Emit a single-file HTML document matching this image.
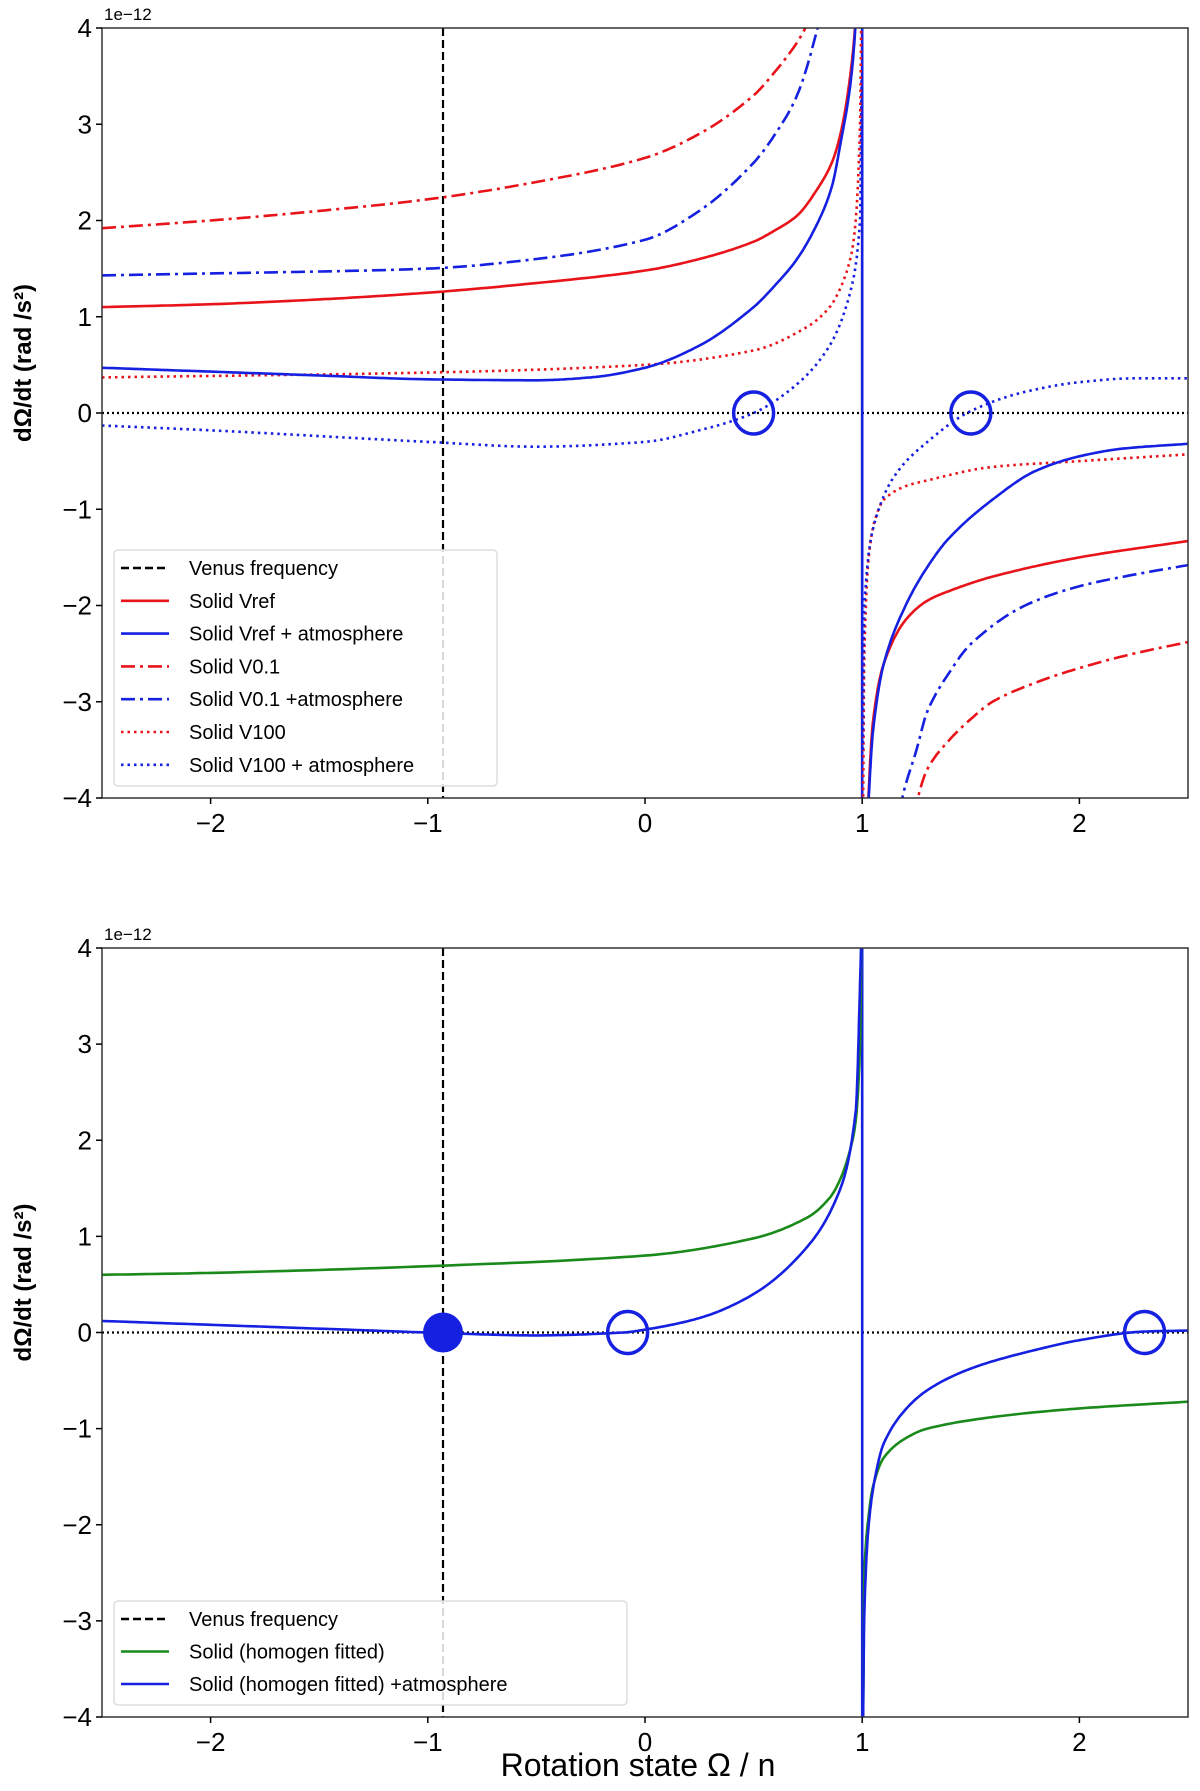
<!DOCTYPE html>
<html><head><meta charset="utf-8"><style>
html,body{margin:0;padding:0;background:#fff;overflow:hidden;width:1200px;height:1791px;}
svg{display:block;}
svg text{font-family:"Liberation Sans","DejaVu Sans",sans-serif;}
</style></head><body>
<svg id="fig" width="1200" height="1791" viewBox="0 0 1200 1791" xmlns="http://www.w3.org/2000/svg"></svg>
<script>
// ---- data: top panel ----
const vrefL_x=[-2.5,-2,-1.5,-1,-0.5,0,0.25,0.5,0.6,0.7,0.8,0.86,0.9,0.95,0.98,0.995];
const vrefL_y=[1.1,1.13,1.18,1.25,1.35,1.48,1.6,1.78,1.9,2.05,2.35,2.6,2.9,3.6,4.5,6];
const vrefR_x=[1.005,1.02,1.05,1.1,1.2,1.3,1.4,1.6,2,2.5];
const vrefR_y=[-6,-4.5,-3.2,-2.6,-2.15,-1.95,-1.85,-1.7,-1.5,-1.33];
const vrefAtmL_x=[-2.5,-2,-1.5,-1,-0.5,-0.25,0,0.25,0.5,0.6,0.7,0.8,0.86,0.9,0.95,0.98,0.995];
const vrefAtmL_y=[0.47,0.43,0.39,0.35,0.34,0.37,0.47,0.7,1.1,1.33,1.6,2.0,2.35,2.8,3.5,4.5,6];
const vrefAtmR_x=[1.003,1.01,1.03,1.05,1.1,1.2,1.3,1.4,1.6,1.8,2,2.2,2.5];
const vrefAtmR_y=[-7,-5,-4,-3.3,-2.6,-2.0,-1.6,-1.3,-0.9,-0.6,-0.45,-0.37,-0.32];
const v01L_x=[-2.5,-2,-1.5,-1,-0.5,0,0.25,0.5,0.6,0.7,0.75,0.8];
const v01L_y=[1.92,2.0,2.1,2.22,2.4,2.65,2.9,3.3,3.55,3.85,4.05,4.3];
const v01R_x=[1.2,1.25,1.3,1.4,1.5,1.6,1.8,2,2.25,2.5];
const v01R_y=[-4.6,-4.05,-3.7,-3.4,-3.18,-3.0,-2.8,-2.65,-2.5,-2.38];
const v01AtmL_x=[-2.5,-2,-1.5,-1,-0.5,0,0.25,0.5,0.6,0.7,0.8,0.85];
const v01AtmL_y=[1.43,1.45,1.47,1.5,1.6,1.8,2.1,2.6,2.9,3.3,4.05,4.6];
const v01AtmR_x=[1.15,1.18,1.25,1.3,1.4,1.5,1.75,2,2.25,2.5];
const v01AtmR_y=[-4.6,-4.05,-3.5,-3.1,-2.7,-2.4,-2.0,-1.8,-1.68,-1.58];
const v100L_x=[-2.5,-1,0,0.5,0.75,0.85,0.9,0.95,0.97,0.99,0.997];
const v100L_y=[0.37,0.42,0.5,0.65,0.9,1.1,1.3,1.65,2,3,4.5];
const v100R_x=[1.003,1.01,1.03,1.06,1.1,1.2,1.3,1.6,2,2.5];
const v100R_y=[-4.5,-2.5,-1.5,-1.1,-0.9,-0.76,-0.7,-0.56,-0.5,-0.43];
const v100AtmL_x=[-2.5,-2,-1.5,-1,-0.5,0,0.25,0.5,0.7,0.85,0.95,0.99,0.997];
const v100AtmL_y=[-0.13,-0.18,-0.24,-0.3,-0.35,-0.3,-0.18,0.0,0.3,0.7,1.3,2,3.5];
const v100AtmR_x=[1.003,1.01,1.05,1.15,1.3,1.5,1.75,2,2.25,2.5];
const v100AtmR_y=[-3.5,-2,-1.2,-0.65,-0.3,0.02,0.22,0.32,0.36,0.36];
const topCircles_x=[0.5,1.5];
// ---- data: bottom panel ----
const greenL_x=[-2.5,-2,-1,0,0.5,0.75,0.85,0.9,0.95,0.97,0.99,0.997];
const greenL_y=[0.6,0.62,0.69,0.8,0.98,1.2,1.4,1.6,1.95,2.2,3,4.5];
const greenR_x=[1.003,1.01,1.03,1.05,1.1,1.2,1.3,1.6,2,2.5];
const greenR_y=[-4.5,-2.5,-1.9,-1.6,-1.3,-1.1,-1.0,-0.88,-0.79,-0.72];
const blueL_x=[-2.5,-2,-1.5,-1,-0.5,-0.1,0,0.25,0.5,0.75,0.9,0.97,0.995];
const blueL_y=[0.12,0.08,0.04,0.0,-0.03,0.0,0.03,0.15,0.4,0.9,1.5,2.3,4];
const blueR_x=[1.002,1.01,1.03,1.06,1.1,1.2,1.3,1.45,1.6,1.8,2,2.3,2.5];
const blueR_y=[-4.5,-2.9,-2,-1.5,-1.15,-0.8,-0.6,-0.42,-0.3,-0.18,-0.08,0.01,0.02];
const botCircles_x=[-0.08,2.3];
const botDot_x=[-0.93];
const venusX=-0.93;
const xTicks=[-2,-1,0,1,2];
const yTicks=[-4,-3,-2,-1,0,1,2,3,4];
const xTickLabels=["\u22122","\u22121","0","1","2"];
const yTickLabels=["\u22124","\u22123","\u22122","\u22121","0","1","2","3","4"];

const NS="http://www.w3.org/2000/svg";
const svg=document.getElementById('fig');
function mk(tag,attrs,parent){const e=document.createElementNS(NS,tag);for(const k in attrs)e.setAttribute(k,attrs[k]);(parent||svg).appendChild(e);return e;}
const X0=102,X1=1188;
function sx(v){return X0+(v+2.5)/5*(X1-X0);}
function makeSy(top,bot){return v=>bot-(v+4)/8*(bot-top);}
const LIM=4.05;
function spline(xs,ys,sy){
  const n=xs.length, d=[], m=new Array(n);
  for(let i=0;i<n-1;i++) d.push((ys[i+1]-ys[i])/(xs[i+1]-xs[i]));
  m[0]=d[0]; m[n-1]=d[n-2];
  for(let i=1;i<n-1;i++) m[i]=(d[i-1]*d[i]<=0)?0:2/(1/d[i-1]+1/d[i]);
  let out=[];
  for(let i=0;i<n-1;i++){
    const h=xs[i+1]-xs[i];
    for(let k=0;k<20;k++){
      const t=k/20, t2=t*t, t3=t2*t;
      const y=(2*t3-3*t2+1)*ys[i]+(t3-2*t2+t)*h*m[i]+(-2*t3+3*t2)*ys[i+1]+(t3-t2)*h*m[i+1];
      out.push([sx(xs[i]+t*h),sy(Math.max(-LIM,Math.min(LIM,y)))]);
    }
  }
  out.push([sx(xs[n-1]),sy(Math.max(-LIM,Math.min(LIM,ys[n-1])))]);
  return "M"+out.map(p=>p[0].toFixed(1)+","+p[1].toFixed(1)).join(" L");
}
function panel(top,bot,id,series,extras,legend,lg){
  const sy=makeSy(top,bot);
  const g=mk('g',{});
  
  
  mk('clipPath',{id:'clip'+id},g);
  mk('rect',{x:X0,y:top,width:X1-X0,height:bot-top},g.lastChild);
  const plot=mk('g',{'clip-path':'url(#clip'+id+')'},g);
  
  
  const zl=mk('line',{x1:X0,x2:X1,y1:sy(0),y2:sy(0),stroke:'#000','stroke-width':2.2,'stroke-dasharray':'2,3'},plot);
  
  
  const vl=mk('line',{x1:sx(venusX),x2:sx(venusX),y1:top,y2:bot,stroke:'#000','stroke-width':2.2,'stroke-dasharray':'8,4'},plot);
  
  
  for(const s of series){
    const pth=mk('path',{d:spline(s.x,s.y,sy),fill:'none',stroke:s.c,'stroke-width':2.6,'stroke-dasharray':s.dash||'none'},plot);
    
    
  }
  extras(plot,sy);
  const fr=mk('rect',{x:X0,y:top,width:X1-X0,height:bot-top,fill:'none',stroke:'#333','stroke-width':1.5},g);
  
  
  xTicks.forEach((t,i)=>{
    mk('line',{x1:sx(t),x2:sx(t),y1:bot,y2:bot+6,stroke:'#000','stroke-width':1.5},g);
    const tx=mk('text',{x:sx(t),y:bot+34,'text-anchor':'middle','font-size':26},g);
    tx.textContent=xTickLabels[i];
    
    
  });
  yTicks.forEach((t,i)=>{
    mk('line',{x1:X0-6,x2:X0,y1:sy(t),y2:sy(t),stroke:'#000','stroke-width':1.5},g);
    const tx=mk('text',{x:X0-10,y:sy(t)+9,'text-anchor':'end','font-size':26},g);
    tx.textContent=yTickLabels[i];
    
    
  });
  const ex=mk('text',{x:X0+2,y:top-8,'font-size':17},g);
  ex.textContent='1e\u221212';
  
  
  const yl=mk('text',{transform:'translate(31,'+((top+bot)/2-50)+') rotate(-90)','text-anchor':'middle','font-size':24,'font-weight':'bold'},g);
  yl.textContent='dΩ/dt  (rad /s²)';
  
  
  const L=mk('g',{},g);
  
  
  mk('rect',{x:lg.x,y:lg.y,width:lg.w,height:lg.h,fill:'#fff','fill-opacity':0.85,stroke:'#ddd','stroke-width':1.5,rx:4},L);
  legend.forEach((e,i)=>{
    const yy=lg.y+18+i*lg.step;
    mk('line',{x1:121,x2:169,y1:yy,y2:yy,stroke:e.c,'stroke-width':2.6,'stroke-dasharray':e.dash||'none'},L);
    const t=mk('text',{x:189,y:yy+7,'font-size':20},L);
    t.textContent=e.t;
    
    
  });
}
const R='#e8141a',B='#1520e0',G='#1a8a1a',DD='14,5,3,5',DT='2.5,4';
panel(28,798,'top',[
 {x:[1,1.0001],y:[-4,4],c:R,name:'pole-line-red'},
 {x:[1,1.0001],y:[-4,4],c:B,name:'pole-line-blue'},
 {x:v100L_x,y:v100L_y,c:R,dash:DT,name:'solid-v100-left'},
 {x:v100R_x,y:v100R_y,c:R,dash:DT,name:'solid-v100-right'},
 {x:v100AtmL_x,y:v100AtmL_y,c:B,dash:DT,name:'solid-v100-atm-left'},
 {x:v100AtmR_x,y:v100AtmR_y,c:B,dash:DT,name:'solid-v100-atm-right'},
 {x:v01L_x,y:v01L_y,c:R,dash:DD,name:'solid-v01-left'},
 {x:v01R_x,y:v01R_y,c:R,dash:DD,name:'solid-v01-right'},
 {x:v01AtmL_x,y:v01AtmL_y,c:B,dash:DD,name:'solid-v01-atm-left'},
 {x:v01AtmR_x,y:v01AtmR_y,c:B,dash:DD,name:'solid-v01-atm-right'},
 {x:vrefL_x,y:vrefL_y,c:R,name:'solid-vref-left'},
 {x:vrefR_x,y:vrefR_y,c:R,name:'solid-vref-right'},
 {x:vrefAtmL_x,y:vrefAtmL_y,c:B,name:'solid-vref-atm-left'},
 {x:vrefAtmR_x,y:vrefAtmR_y,c:B,name:'solid-vref-atm-right'}
],(p,sy)=>{
 topCircles_x.forEach(x=>{
  const c=mk('ellipse',{cx:sx(x),cy:sy(0),rx:20,ry:21,fill:'none',stroke:B,'stroke-width':3.5},p);
  
  
 });
},[
 {t:'Venus frequency',c:'#000',dash:'8,4'},
 {t:'Solid Vref',c:R},
 {t:'Solid Vref + atmosphere',c:B},
 {t:'Solid V0.1',c:R,dash:DD},
 {t:'Solid V0.1  +atmosphere',c:B,dash:DD},
 {t:'Solid V100',c:R,dash:DT},
 {t:'Solid V100 + atmosphere',c:B,dash:DT}
],{x:114,y:550,w:383,h:236,step:32.8});

panel(948,1717,'bottom',[
 {x:[1,1.0001],y:[-4,4],c:B,name:'pole-line-blue'},
 {x:greenL_x,y:greenL_y,c:G,name:'solid-homogen-left'},
 {x:greenR_x,y:greenR_y,c:G,name:'solid-homogen-right'},
 {x:blueL_x,y:blueL_y,c:B,name:'solid-homogen-atm-left'},
 {x:blueR_x,y:blueR_y,c:B,name:'solid-homogen-atm-right'}
],(p,sy)=>{
 botCircles_x.forEach(x=>{
  const c=mk('ellipse',{cx:sx(x),cy:sy(0),rx:20,ry:21,fill:'none',stroke:B,'stroke-width':3.5},p);
  
  
 });
 botDot_x.forEach(x=>{
  const c=mk('ellipse',{cx:sx(x),cy:sy(0),rx:20,ry:20,fill:B},p);
  
  
 });
},[
 {t:'Venus frequency',c:'#000',dash:'8,4'},
 {t:' Solid (homogen fitted)',c:G},
 {t:'Solid (homogen fitted) +atmosphere',c:B}
],{x:114,y:1601,w:513,h:104,step:32.5});

const xl=mk('text',{x:638,y:1776,'text-anchor':'middle','font-size':32});
xl.textContent='Rotation state Ω / n';


</script>
</body></html>
